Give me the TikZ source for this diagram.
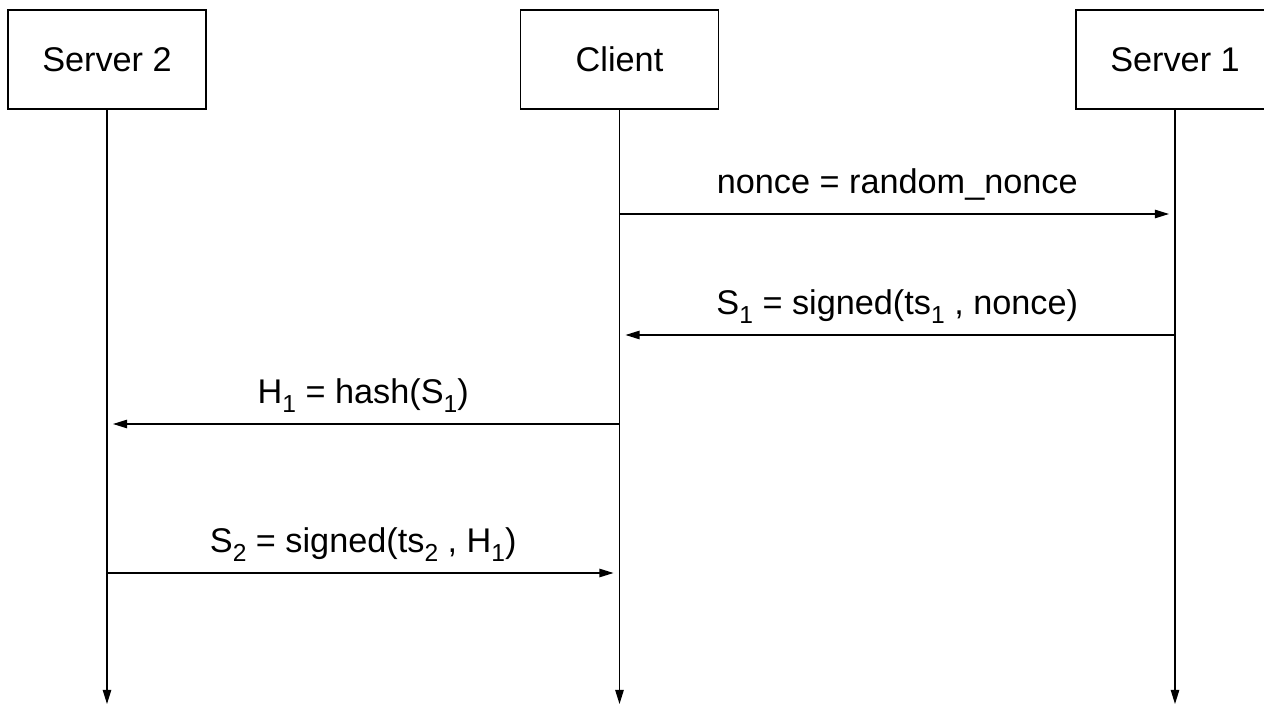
\documentclass[tikz,border=0pt]{standalone}
\usepackage{fontspec}
\setmainfont{Liberation Sans}
\usetikzlibrary{arrows.meta}

% lowered subscript, as in the reference labels
\newcommand{\lowsub}[1]{\raisebox{-5pt}{\fontsize{14}{14}\selectfont #1}}

\begin{document}
\begin{tikzpicture}[x=0.02cm, y=-0.02cm, >=Triangle,
      actor/.style={draw, line width=0.8pt, minimum width=3.96cm, minimum height=1.98cm,
                    inner sep=0pt, font=\fontsize{19.5}{23}\selectfont},
      life/.style={->, line width=0.7pt, >={Triangle[length=8pt, width=4.8pt]}},
      msg/.style={->, line width=0.7pt, shorten >=0.12cm, >={Triangle[length=8pt, width=4.8pt]}},
      lbl/.style={midway, anchor=base, yshift=0.41cm, font=\fontsize{19.5}{23}\selectfont}]

    \useasboundingbox (0,0) rectangle (1264,705);

    % participants
    \node[actor] (s2) at (107, 59.5)  {Server 2};
    \node[actor] (cl) at (619.5, 59.5) {Client};
    \node[actor] (s1) at (1175, 59.5) {Server 1};

    % lifelines
    \coordinate (s2end) at (107, 704);
    \coordinate (clend) at (619.5, 704);
    \coordinate (s1end) at (1175, 704);
    \draw[life] (s2) -- (s2end);
    \draw[life] (cl) -- (clend);
    \draw[life] (s1) -- (s1end);

    % message rows
    \coordinate (r1) at (0, 214);
    \coordinate (r2) at (0, 335);
    \coordinate (r3) at (0, 424);
    \coordinate (r4) at (0, 573);

    \draw[msg] (cl |- r1) -- (s1 |- r1)
      node[lbl] {nonce = random\_nonce};
    \draw[msg] (s1 |- r2) -- (cl |- r2)
      node[lbl] {S\lowsub{1} = signed(ts\lowsub{1} , nonce)};
    \draw[msg] (cl |- r3) -- (s2 |- r3)
      node[lbl] {H\lowsub{1} = hash(S\lowsub{1})};
    \draw[msg] (s2 |- r4) -- (cl |- r4)
      node[lbl] {S\lowsub{2} = signed(ts\lowsub{2} , H\lowsub{1})};

\end{tikzpicture}
\end{document}
